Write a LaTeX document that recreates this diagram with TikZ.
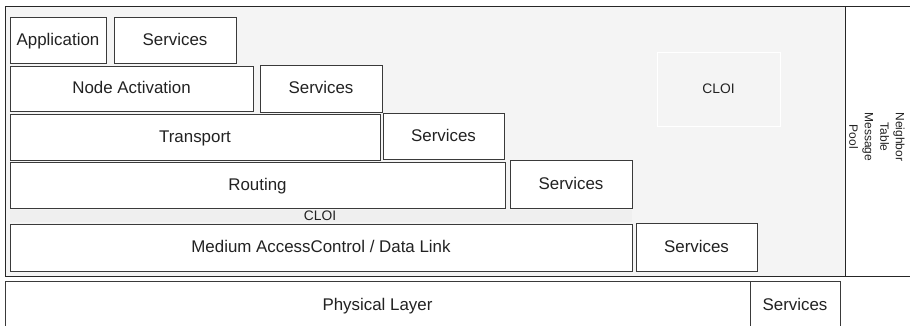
\documentclass[tikz,border=0pt]{standalone}
\usepackage{fontspec}
\setmainfont{Liberation Sans}
\definecolor{panelbg}{HTML}{F4F4F4}
\definecolor{bandbg}{HTML}{EFEFEF}
\definecolor{edge}{HTML}{3A3A3A}
\definecolor{ink}{HTML}{222222}
\tikzset{
  layer/.style={draw=edge, line width=0.9pt, fill=white, inner sep=0pt, outer sep=0pt,
    text=ink, font=\fontsize{16.9}{19}\selectfont, text height=14.4pt, text depth=3.6pt},
  frame/.style={draw=black!85, line width=1pt, inner sep=0pt, outer sep=0pt},
  smalltext/.style={text=ink, font=\fontsize{13.8}{16}\selectfont, inner sep=0pt}
}
\begin{document}
\begin{tikzpicture}[x=1pt, y=-1pt]
\useasboundingbox (0,0) rectangle (910,326);
\clip (0,0) rectangle (910,326);

% stack frame and side panel
\node (stack) [frame, fill=panelbg, minimum width=840pt, minimum height=269pt] at (425,141.5) {};
\node (side) [frame, fill=white, minimum width=67pt, minimum height=269pt] at (878.5,141.5) {};
\node (sidetext) [rotate=-90, align=center, text=ink, inner sep=0pt,
  font=\fontsize{12}{15.5}\selectfont] at (877,137) {Neighbor\\Table\\Message\\Pool};

% cross-layer interface box
\node (cloibox) [draw=white, line width=0.8pt, fill=panelbg, minimum width=123pt, minimum height=74pt,
  inner sep=0pt, text=ink, font=\fontsize{13.8}{16}\selectfont] at (718.5,89) {CLOI};

% protocol layers and their services
\node (app)   [layer, minimum width=96pt,  minimum height=46pt] at (58,40)      {Application};
\node (srv1)  [layer, minimum width=122pt, minimum height=46pt] at (175,40)     {Services};
\node (nact)  [layer, minimum width=243pt, minimum height=45pt] at (131.5,88.5) {Node Activation};
\node (srv2)  [layer, minimum width=122pt, minimum height=47pt] at (321,88.5)   {Services};
\node (trans) [layer, minimum width=370pt, minimum height=46pt] at (195,137)    {Transport};
\node (srv3)  [layer, minimum width=121pt, minimum height=46pt] at (443.5,136)  {Services};
\node (rout)  [layer, minimum width=495pt, minimum height=46pt] at (257.5,185)  {Routing};
\node (srv4)  [layer, minimum width=122pt, minimum height=48pt] at (571,184)    {Services};

% CLOI band between routing and MAC
\node (band) [fill=bandbg, minimum width=622pt, minimum height=12pt, inner sep=0pt] at (321,216) {};
\node (bandtext) [smalltext] at (320,216) {CLOI};

\node (mac)   [layer, minimum width=622pt, minimum height=47pt] at (321,247.5)  {Medium AccessControl / Data Link};
\node (srv5)  [layer, minimum width=121pt, minimum height=48pt] at (696.5,247)  {Services};

% physical layer below the frame
\node (phy)   [layer, minimum width=745pt, minimum height=48pt] at (377.5,305)  {Physical Layer};
\node (srv6)  [layer, minimum width=90pt,  minimum height=48pt] at (795,305)    {Services};
\end{tikzpicture}
\end{document}
